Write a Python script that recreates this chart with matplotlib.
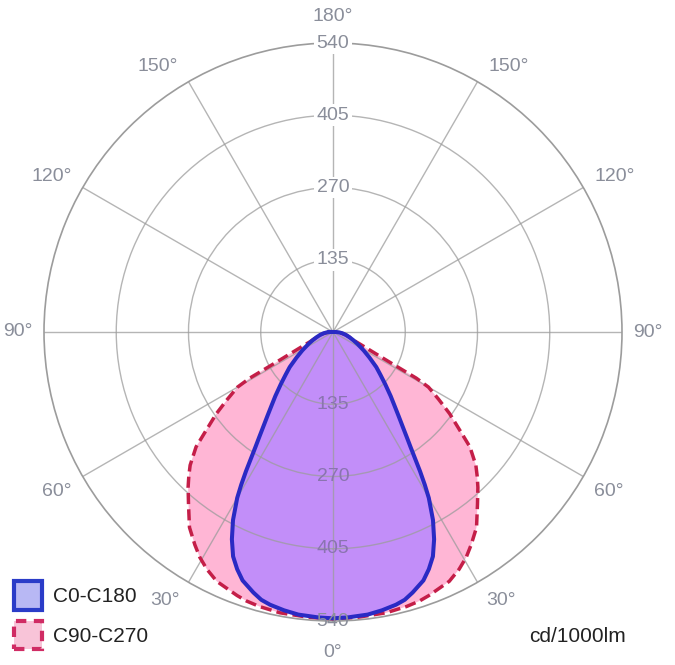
import numpy as np
import matplotlib
matplotlib.use("Agg")
import matplotlib.pyplot as plt
from matplotlib.patches import Rectangle

plt.rcParams['font.family'] = ['Liberation Sans', 'DejaVu Sans']

# gamma angles (deg, measured from nadir) and intensities (cd/1000lm), symmetric curves
gamma_c0 = [0, 3, 7, 10, 13, 15, 17, 20, 22, 24, 26, 28, 30, 31, 32, 33, 34, 35, 36,
            38, 40, 42, 45, 48, 51, 55, 59, 64, 68, 72, 77, 82, 86, 90]
cd_c0 = [535, 534, 532, 528, 523, 518, 509, 494, 478, 459, 431, 398, 358, 333, 307, 281,
         259, 241, 225, 199, 178, 161, 138, 119, 104, 83, 67, 51, 41, 33, 25, 18, 12, 6]

gamma_c90 = [0, 5, 10.7, 15, 17.8, 20, 25, 28, 30.6, 33, 36.3, 40, 43, 45, 47, 50, 52,
             55, 57.5, 60, 61, 62, 64, 66, 67, 70, 73.6, 78, 82, 86, 90]
cd_c90 = [536, 535, 534, 531, 528, 524, 514, 502, 489, 474, 453, 420, 397, 381, 365, 334,
          303, 266, 234, 206, 178, 118, 74, 54, 47, 37, 31, 24, 16, 10, 5]

r_ticks = [135, 270, 405, 540]
angle_ticks = [0, 30, 60, 90, 120, 150, 180]
series_names = ["C0-C180", "C90-C270"]
unit_label = "cd/1000lm"

grid_col = '#9c9c9c'
txt_col = '#8a8e9a'

fig = plt.figure(figsize=(6.75, 6.65), dpi=100)
ax = fig.add_axes([44/675, 44/665, 578/675, 578/665], projection='polar')
ax.set_theta_zero_location('S')
ax.set_ylim(0, 540)


def full_curve(g, v):
    g = np.array(g, float)
    v = np.array(v, float)
    th = np.concatenate([-g[::-1], g[1:]])
    rr = np.concatenate([v[::-1], v[1:]])
    return np.radians(th), rr


th90, r90 = full_curve(gamma_c90, cd_c90)
th0, r0 = full_curve(gamma_c0, cd_c0)

ax.fill(th90, r90, color='#ffb6d5', zorder=1, lw=0)
ax.fill(th0, r0, color='#c28ef9', zorder=2, lw=0)
ax.plot(np.append(th90, th90[0]), np.append(r90, r90[0]), color='#c41e48',
        lw=2.5, ls=(0, (3.2, 1.5)), zorder=4, solid_joinstyle='round')
ax.plot(np.append(th0, th0[0]), np.append(r0, r0[0]), color='#2a2ac4',
        lw=2.9, zorder=5, solid_joinstyle='round')

# grid
ax.set_xticks(np.radians(np.arange(0, 360, 30)))
ax.set_xticklabels([])
ax.set_yticks(r_ticks[:-1])
ax.set_yticklabels([])
ax.grid(True, color=grid_col, lw=1.0, alpha=0.75)
ax.set_axisbelow(False)
ax.spines['polar'].set_color(grid_col)
ax.spines['polar'].set_linewidth(1.2)
for gl in ax.xaxis.get_gridlines() + ax.yaxis.get_gridlines():
    gl.set_zorder(3)

# radial labels
for r in r_ticks:
    ax.text(np.radians(180), r, str(r), ha='center', va='center', fontsize=14,
            color=txt_col, zorder=6,
            bbox=dict(boxstyle='square,pad=0.12', fc='white', ec='none'))
    ax.text(0, r, str(r), ha='center', va='center', fontsize=14,
            color='#8a74b0' if r < 540 else txt_col, zorder=6)

# angle labels
label_pos = {0: (0, 598), 30: (32, 591), 60: (60, 596), 90: (90, 589),
             120: (119, 601), 150: (146.5, 594), 180: (180, 590)}
for a in angle_ticks:
    ang, rr = label_pos[a]
    sides = [ang] if a in (0, 180) else [ang, -ang]
    for s in sides:
        ax.text(np.radians(s), rr, f"{a}°", ha='center', va='center', fontsize=14,
                color=txt_col, clip_on=False, zorder=6)

# legend (drawn manually)
W, H = 675, 665
def fx(px):
    return px / W
def fy(py):
    return 1 - py / H

fig.patches.append(Rectangle((fx(14), fy(610)), 28/W, 29/H, transform=fig.transFigure,
                             facecolor='#b8b8f4', edgecolor='#2a3cc8', lw=3))
fig.patches.append(Rectangle((fx(14), fy(649)), 28/W, 28/H, transform=fig.transFigure,
                             facecolor='#f8c4d8', edgecolor='#d02c64', lw=3,
                             ls=(0, (2.5, 1.8))))
fig.text(fx(53), fy(596), series_names[0], ha='left', va='center', fontsize=15,
         color='#222222')
fig.text(fx(53), fy(636), series_names[1], ha='left', va='center', fontsize=15,
         color='#222222')

fig.text(578/675, 1 - 637/665, unit_label, ha='center', va='center', fontsize=15,
         color='#222222')

fig.savefig('out.png', dpi=100)
